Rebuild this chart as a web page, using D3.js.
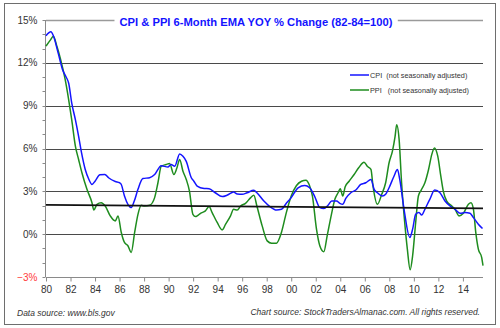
<!DOCTYPE html>
<html lang="en">
<head>
<meta charset="utf-8">
<title>CPI &amp; PPI 6-Month EMA YOY % Change</title>
<style>
    body { margin: 0; background: #fff; font-family: Arial, "Liberation Sans", sans-serif; }
    svg { display: block; }
    .legend text { white-space: pre; }
</style>
</head>
<body>
<script src="https://cdn.jsdelivr.net/npm/d3@7/dist/d3.min.js"></script>
<script>

    // [year, % change] pairs, 6-month EMA of YOY change
    var cpi = [
        [1980.0, 13.9], [1980.4, 14.17], [1980.6, 13.9], [1981.0, 12.66], [1981.36, 11.5],
        [1981.63, 11.03], [1981.85, 10.57], [1982.1, 9.18], [1982.4, 8.0], [1982.66, 6.85],
        [1982.9, 5.69], [1983.2, 4.53], [1983.5, 3.83], [1983.75, 3.48], [1984.0, 3.71],
        [1984.4, 4.16], [1984.8, 4.18], [1985.1, 3.95], [1985.65, 3.69], [1986.0, 3.6],
        [1986.14, 3.48], [1986.4, 2.67], [1986.95, 1.86], [1987.2, 2.32], [1987.5, 3.14],
        [1987.9, 3.9], [1988.45, 3.95], [1988.86, 4.18], [1989.4, 4.8], [1989.94, 4.7],
        [1990.2, 4.88], [1990.5, 4.76], [1990.9, 5.62], [1991.17, 5.46], [1991.44, 5.1],
        [1991.85, 3.95], [1992.06, 3.71], [1992.33, 3.37], [1992.9, 3.2], [1993.3, 3.18],
        [1993.8, 2.9], [1994.37, 2.63], [1994.8, 2.74], [1995.3, 2.95], [1995.6, 2.81],
        [1996.0, 2.79], [1996.4, 2.9], [1996.95, 3.07], [1997.2, 2.9], [1997.77, 2.32],
        [1998.26, 1.93], [1998.8, 1.69], [1999.2, 1.74], [1999.6, 2.16], [2000.0, 2.56],
        [2000.56, 3.25], [2001.1, 3.41], [2001.5, 3.25], [2001.9, 2.67], [2002.33, 1.86],
        [2002.66, 1.79], [2003.0, 2.02], [2003.3, 2.32], [2003.7, 2.32], [2003.96, 2.16],
        [2004.2, 2.09], [2004.45, 2.5], [2004.86, 2.9], [2005.27, 3.09], [2005.67, 3.48],
        [2006.08, 3.6], [2006.5, 3.83], [2006.76, 3.14], [2007.03, 2.9], [2007.44, 2.67],
        [2007.7, 2.79], [2007.98, 3.25], [2008.38, 4.06], [2008.66, 4.53], [2008.85, 3.83],
        [2009.2, 1.74], [2009.67, -0.23], [2009.9, 0.35], [2010.15, 1.39], [2010.42, 1.51],
        [2010.64, 1.34], [2010.9, 1.74], [2011.3, 2.44], [2011.7, 3.09], [2012.13, 2.9],
        [2012.54, 2.32], [2012.95, 1.97], [2013.36, 1.74], [2013.77, 1.46], [2014.17, 1.51],
        [2014.58, 1.46], [2014.86, 1.16], [2015.26, 0.7], [2015.6, 0.4]
    ];

    var ppi = [
        [1980.0, 13.17], [1980.35, 13.59], [1980.6, 13.87], [1980.9, 13.12], [1981.17, 12.31],
        [1981.57, 10.8], [1981.85, 9.41], [1982.1, 8.0], [1982.4, 6.15], [1982.66, 5.23],
        [1982.93, 4.3], [1983.34, 3.14], [1983.75, 2.2], [1983.9, 1.69], [1984.16, 2.09],
        [1984.5, 2.2], [1984.83, 1.97], [1985.24, 1.28], [1985.65, 0.93], [1985.87, 1.28],
        [1986.14, 0.12], [1986.4, -0.58], [1986.68, -0.81], [1986.95, -1.28], [1987.23, 0.12],
        [1987.5, 1.39], [1987.77, 2.02], [1988.04, 1.97], [1988.45, 2.02], [1988.86, 2.56],
        [1989.13, 3.6], [1989.4, 4.76], [1989.8, 4.88], [1990.08, 4.95], [1990.43, 4.18],
        [1990.68, 4.65], [1990.9, 5.23], [1991.17, 4.41], [1991.44, 3.83], [1991.7, 3.02],
        [1991.98, 1.39], [1992.2, 1.23], [1992.33, 1.28], [1992.6, 1.46], [1993.0, 1.63],
        [1993.3, 1.93], [1993.55, 1.51], [1993.96, 0.82], [1994.37, 0.3], [1994.65, 0.7],
        [1995.05, 1.28], [1995.3, 1.74], [1995.6, 1.69], [1995.87, 1.97], [1996.27, 2.16],
        [1996.7, 2.56], [1996.95, 2.72], [1997.2, 1.97], [1997.63, 0.58], [1998.04, -0.47],
        [1998.4, -0.63], [1998.8, -0.63], [1999.2, 0.12], [1999.6, 1.51], [2000.0, 2.67],
        [2000.43, 3.41], [2000.84, 3.71], [2001.2, 3.78], [2001.46, 3.48], [2001.73, 2.67],
        [2002.06, 0.35], [2002.33, -0.81], [2002.66, -1.23], [2002.93, -0.12], [2003.28, 1.39],
        [2003.56, 2.44], [2003.82, 2.9], [2004.0, 3.18], [2004.2, 2.67], [2004.4, 3.32],
        [2004.72, 3.71], [2005.13, 4.18], [2005.5, 4.65], [2005.94, 5.04], [2006.2, 4.76],
        [2006.5, 4.53], [2006.67, 3.37], [2007.03, 2.09], [2007.38, 2.79], [2007.7, 3.6],
        [2007.98, 5.0], [2008.25, 5.8], [2008.47, 6.85], [2008.6, 7.67], [2008.8, 6.62],
        [2009.0, 3.6], [2009.28, 0.58], [2009.47, -1.05], [2009.7, -2.49], [2009.9, -1.51],
        [2010.15, 0.82], [2010.37, 2.67], [2010.6, 3.09], [2010.9, 3.6], [2011.2, 4.53],
        [2011.46, 5.57], [2011.68, 6.04], [2011.95, 5.46], [2012.2, 4.06], [2012.4, 3.02],
        [2012.68, 2.32], [2013.1, 1.97], [2013.36, 1.74], [2013.68, 1.28], [2014.04, 1.46],
        [2014.45, 2.09], [2014.66, 2.2], [2014.86, 1.74], [2015.05, 0.12], [2015.26, -1.05],
        [2015.53, -1.62], [2015.64, -2.2]
    ];

    // straight trend line across the period
    var trend = [[1980.0, 2.05], [2015.64, 1.81]];

    var yTicks = [-3, 0, 3, 6, 9, 12, 15];
    var xTicks = d3.range(1980, 2015, 2);

    var title = "CPI & PPI 6-Month EMA YOY % Change (82-84=100)";
    var legendItems = [
        { label: "CPI  (not seasonally adjusted)", color: "#1414ff" },
        { label: "PPI   (not seasonally adjusted)", color: "#1e8c1e" }
    ];

    var width = 500, height = 328;

    var svg = d3.select("body").append("svg")
        .attr("width", width)
        .attr("height", height);

    // outer frame
    svg.append("rect")
        .attr("x", 4.5).attr("y", 3.5)
        .attr("width", 491).attr("height", 321)
        .attr("fill", "#fff")
        .attr("stroke", "#6e6e6e");

    var x = d3.scaleLinear().domain([1980, 2015.64]).range([46, 483]);
    var y = d3.scaleLinear().domain([-3, 15]).range([277, 20]);

    var crisp = function (v) { return Math.round(v) + 0.5; };

    // horizontal grid
    svg.append("g").selectAll("line")
        .data(yTicks.filter(function (d) { return d > -3; }))
      .enter().append("line")
        .attr("x1", 46).attr("x2", 483)
        .attr("y1", function (d) { return crisp(y(d)); })
        .attr("y2", function (d) { return crisp(y(d)); })
        .attr("stroke", function (d) { return d === 15 ? "#9a9a9a" : "#4a4a4a"; })
        .attr("stroke-width", function (d) { return d === 15 ? 1.5 : 1; });

    // y axis with minor ticks every 1%
    var yAxis = svg.append("g").attr("transform", "translate(45.5,0)");
    yAxis.append("line")
        .attr("y1", y(15)).attr("y2", y(-3))
        .attr("stroke", "#8a8a8a");
    yAxis.selectAll(".minor")
        .data(d3.range(-3, 16, 1))
      .enter().append("line")
        .attr("class", "minor")
        .attr("x1", -3).attr("x2", 0)
        .attr("y1", function (d) { return crisp(y(d)); })
        .attr("y2", function (d) { return crisp(y(d)); })
        .attr("stroke", "#8a8a8a");
    yAxis.selectAll("text")
        .data(yTicks)
      .enter().append("text")
        .attr("x", -8)
        .attr("y", function (d) { return y(d); })
        .attr("dy", "0.35em")
        .attr("text-anchor", "end")
        .attr("font-size", "10px")
        .attr("fill", function (d) { return d < 0 ? "#ff3b3b" : "#333"; })
        .text(function (d) { return (d < 0 ? "\u2212" + Math.abs(d) : d) + "%"; });

    // x axis
    var xAxis = svg.append("g")
        .attr("transform", "translate(0," + crisp(y(-3)) + ")")
        .call(d3.axisBottom(x)
            .tickValues(xTicks)
            .tickSize(4)
            .tickPadding(4)
            .tickFormat(function (d) { return String(d).slice(2); }));
    xAxis.select(".domain").attr("stroke", "#8a8a8a").attr("d", "M46,0H483");
    xAxis.selectAll(".tick line").attr("stroke", "#8a8a8a");
    xAxis.selectAll(".tick text")
        .attr("font-size", "10px")
        .attr("font-family", "Arial, 'Liberation Sans', sans-serif")
        .attr("fill", "#333");

    var line = d3.line()
        .x(function (d) { return x(d[0]); })
        .y(function (d) { return y(d[1]); })
        .curve(d3.curveMonotoneX);

    svg.append("path")
        .datum(ppi)
        .attr("d", line)
        .attr("fill", "none")
        .attr("stroke", legendItems[1].color)
        .attr("stroke-width", 1.5);

    svg.append("path")
        .datum(cpi)
        .attr("d", line)
        .attr("fill", "none")
        .attr("stroke", legendItems[0].color)
        .attr("stroke-width", 1.5);

    svg.append("path")
        .datum(trend)
        .attr("d", d3.line().x(function (d) { return x(d[0]); }).y(function (d) { return y(d[1]); }))
        .attr("fill", "none")
        .attr("stroke", "#111")
        .attr("stroke-width", 1.8);

    // title sits on the top border with a white backing
    var titleBack = svg.append("rect").attr("fill", "#fff");
    var titleText = svg.append("text")
        .attr("x", 256)
        .attr("y", 26)
        .attr("text-anchor", "middle")
        .attr("font-size", "11.2px")
        .attr("font-weight", "bold")
        .attr("fill", "#1414ff")
        .text(title);
    var tb = titleText.node().getBBox();
    titleBack
        .attr("x", tb.x - 5).attr("y", 15)
        .attr("width", tb.width + 10).attr("height", 10);

    // legend
    var legend = svg.append("g")
        .attr("class", "legend")
      .selectAll("g")
        .data(legendItems)
      .enter().append("g")
        .attr("transform", function (d, i) { return "translate(350," + (75 + i * 15) + ")"; });
    legend.append("line")
        .attr("x1", 0).attr("x2", 19)
        .attr("stroke", function (d) { return d.color; })
        .attr("stroke-width", 1.5);
    legend.append("text")
        .attr("x", 20)
        .attr("dy", "0.35em")
        .attr("font-size", "7.3px")
        .attr("fill", "#333")
        .text(function (d) { return d.label; });

    // sources
    svg.append("text")
        .attr("x", 17).attr("y", 316)
        .attr("font-size", "8.5px")
        .attr("font-style", "italic")
        .attr("fill", "#333")
        .text("Data source: www.bls.gov");

    svg.append("text")
        .attr("x", 480).attr("y", 315)
        .attr("text-anchor", "end")
        .attr("font-size", "8.5px")
        .attr("font-style", "italic")
        .attr("fill", "#333")
        .text("Chart source: StockTradersAlmanac.com. All rights reserved.");

</script>
</body>
</html>
